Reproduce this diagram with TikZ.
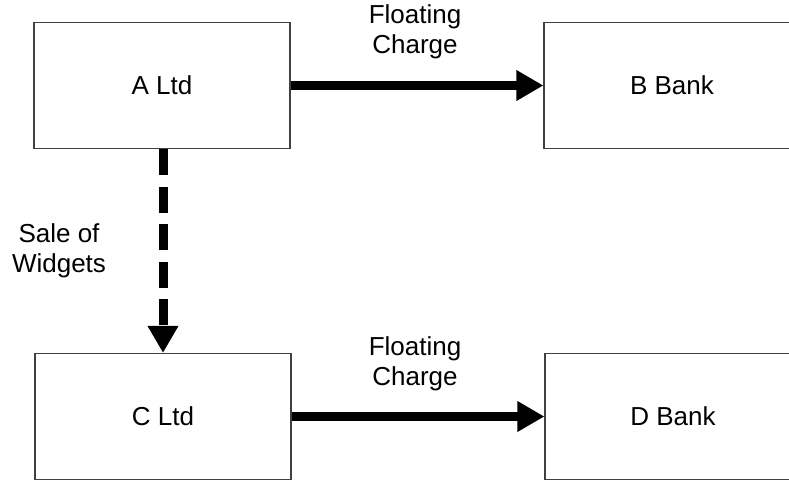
\documentclass[tikz,border=0pt]{standalone}
\usepackage{fontspec}
\setmainfont{Liberation Sans}
\usetikzlibrary{arrows.meta}
\begin{document}
\begin{tikzpicture}[x=1pt, y=-1pt,
    party/.style={draw=black!75, line width=1.2pt, minimum width=256pt, minimum height=126pt, inner sep=0pt},
    charge/.style={line width=9pt, -{Triangle[length=27pt, width=29pt]}},
    sale/.style={charge, dash pattern=on 26pt off 11.5pt},
    note/.style={align=center, font=\fontsize{26}{30}\selectfont}
  ]
    \clip (0,0) rectangle (789,480);
    \node[party, font=\fontsize{26}{30}\selectfont] (aLtd)  at (162,85.5)  {A Ltd};
    \node[party, font=\fontsize{26}{30}\selectfont] (bBank) at (672,85.5)  {B Bank};
    \node[party, font=\fontsize{26}{30}\selectfont] (cLtd)  at (163,416.5) {C Ltd};
    \node[party, font=\fontsize{26}{30}\selectfont] (dBank) at (673,416.5) {D Bank};

    \node[note] (chargeAB) at (415,32)  {Floating\\Charge};
    \node[note] (chargeCD) at (415,364) {Floating\\Charge};
    \node[note] (saleAC)   at (59,251)  {Sale of\\Widgets};

    \draw[charge] (aLtd) -- (bBank);
    \draw[charge] (cLtd) -- (dBank);
    \draw[sale] (aLtd.south -| cLtd.north) -- (cLtd.north);
\end{tikzpicture}
\end{document}
